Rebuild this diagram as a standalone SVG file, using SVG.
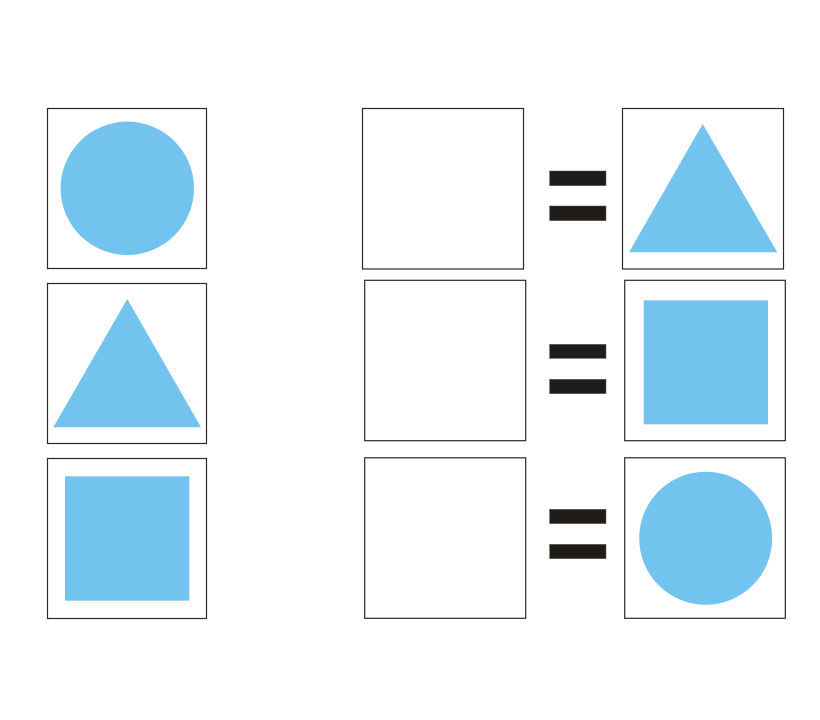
<svg xmlns="http://www.w3.org/2000/svg" width="820" height="720" viewBox="0 0 820 720">
<style>
.box{fill:#fff;stroke:#2a2a2a;stroke-width:1.2}
.shape{fill:#73c3ef}
.bar{fill:#201c1a;stroke:#555;stroke-width:0.5}
</style>
<rect width="820" height="720" fill="#fff"/>
<g id="r1-left"><rect class="box" x="47.5" y="108.5" width="159" height="160"/><circle class="shape" cx="127.3" cy="188.3" r="66.7"/></g>
<g id="r2-left"><rect class="box" x="47.5" y="283.5" width="159" height="160"/><polygon class="shape" points="127.3,299 53.3,427.3 201,427.3"/></g>
<g id="r3-left"><rect class="box" x="47.5" y="458.5" width="159" height="160"/><rect class="shape" x="65" y="476.3" width="124.3" height="124.4"/></g>
<g id="r1-mid"><rect class="box" x="362.5" y="108.5" width="161" height="160.5"/></g>
<g id="r2-mid"><rect class="box" x="364.7" y="280.3" width="161" height="160.4"/></g>
<g id="r3-mid"><rect class="box" x="364.7" y="457.8" width="161" height="160.5"/></g>
<g id="r1-eq"><rect class="bar" x="549.7" y="171" width="56.3" height="14.7"/><rect class="bar" x="549.7" y="206" width="56.3" height="14.7"/></g>
<g id="r2-eq"><rect class="bar" x="549.7" y="344.3" width="56.3" height="14"/><rect class="bar" x="549.7" y="379.3" width="56.3" height="14.4"/></g>
<g id="r3-eq"><rect class="bar" x="549.7" y="509.3" width="56.3" height="14.4"/><rect class="bar" x="549.7" y="544.3" width="56.3" height="14.4"/></g>
<g id="r1-right"><rect class="box" x="622.5" y="108.5" width="161" height="160.5"/><polygon class="shape" points="702.7,124 629,252.3 777.3,252.3"/></g>
<g id="r2-right"><rect class="box" x="624.7" y="280.3" width="160.6" height="160.4"/><rect class="shape" x="643.7" y="300.3" width="124.3" height="124"/></g>
<g id="r3-right"><rect class="box" x="624.7" y="457.8" width="160.6" height="160.5"/><circle class="shape" cx="705.7" cy="538.3" r="66.5"/></g>
</svg>
